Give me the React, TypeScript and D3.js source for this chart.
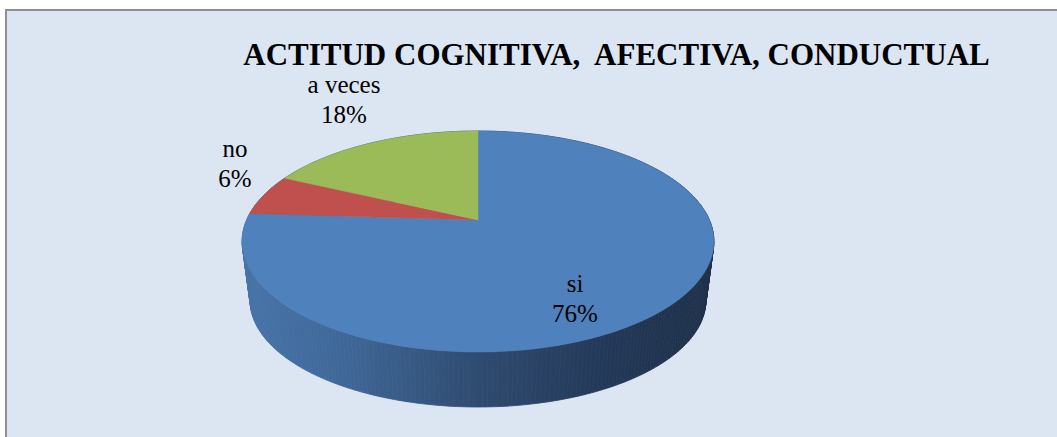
import React, { useEffect, useRef } from 'react'
import * as d3 from 'd3'

const categories = ['si', 'no', 'a veces']
const values = [76, 6, 18]
const colors = ['#4f81bd', '#c0504d', '#9bbb59']
const title = 'ACTITUD COGNITIVA,  AFECTIVA, CONDUCTUAL'
const labelPos: [number, number][] = [[575, 292], [235, 157], [344, 93]]

const serif = 'Times New Roman'

export default function App() {
    const ref = useRef<SVGGElement>(null)
    const width = 1057, height = 437
    const total = d3.sum(values)

    useEffect(() => {
        document.body.style.margin = '0'
        const g = d3.select(ref.current)
        g.selectAll('*').remove()

        // perspective disc: apex, radii, tilt factor
        const cx = 478, cy = 220, A = 231.4, B = 106.3, k = 0.1946
        const depth = 59.5, shrink = 0.966

        const proj = (t: number, bottom: boolean): [number, number] => {
            const x = Math.sin(t), z = Math.cos(t)
            const s = bottom ? shrink : 1
            const w = 1 + k * z
            return [cx + s * A * x / w, cy + (bottom ? depth : 0) - s * B * z / w]
        }

        const line = d3.line()

        // side wall
        const side = g.append('g')
        const n = 360
        for (let i = 0; i < n; i++) {
            const t0 = i / n * Math.PI * 2, t1 = (i + 1) / n * Math.PI * 2
            const pts = [proj(t0, false), proj(t1, false), proj(t1, true), proj(t0, true)]
            side.append('path')
                .attr('d', line(pts) + 'Z')
                .attr('fill', 'url(#sideGrad)')
                .attr('stroke', 'url(#sideGrad)')
                .attr('stroke-width', 0.8)
        }

        // top face
        const pie = d3.pie<number>().sort(null).startAngle(0).endAngle(Math.PI * 2)
        const arcs = pie(values)
        arcs.forEach((a, i) => {
            const steps = Math.max(4, Math.ceil((a.endAngle - a.startAngle) / 0.01))
            const pts: [number, number][] = [[cx, cy]]
            for (let j = 0; j <= steps; j++) {
                pts.push(proj(a.startAngle + (a.endAngle - a.startAngle) * j / steps, false))
            }
            g.append('path')
                .attr('d', line(pts) + 'Z')
                .attr('fill', colors[i])
                .attr('stroke', colors[i])
                .attr('stroke-width', 0.5)
        })
    }, [])

    const stops: [number, string][] = [[0, '#4773a9'], [0.2, '#40699a'], [0.5, '#2f4b70'], [0.75, '#243a5a'], [1, '#1e3049']]

    return (
        <svg width={width} height={height} style={{ display: 'block' }} fontFamily={serif}>
            <defs>
                <linearGradient id='sideGrad' gradientUnits='userSpaceOnUse' x1={243} x2={714} y1={0} y2={0}>
                    {stops.map((s, i) => <stop key={i} offset={s[0]} stopColor={s[1]} />)}
                </linearGradient>
            </defs>
            <rect width={width} height={height} fill='#ffffff' />
            <rect x={6} y={10} width={width + 20} height={height + 20} fill='#dce6f2' stroke='#8f8f8f' strokeWidth={2} />
            <g ref={ref} />
            {categories.map((c, i) => (
                <g key={c} textAnchor='middle' fontSize={25} fill='#000'>
                    <text x={labelPos[i][0]} y={labelPos[i][1]} fontFamily={serif}>{c}</text>
                    <text x={labelPos[i][0]} y={labelPos[i][1] + 30} fontFamily={serif}>
                        {Math.round(values[i] / total * 100) + '%'}
                    </text>
                </g>
            ))}
            <text x={616.5} y={65} textAnchor='middle' fontFamily={serif} fontWeight='bold' fontSize={31}
                xmlSpace='preserve'>{title}</text>
        </svg>
    )
}
